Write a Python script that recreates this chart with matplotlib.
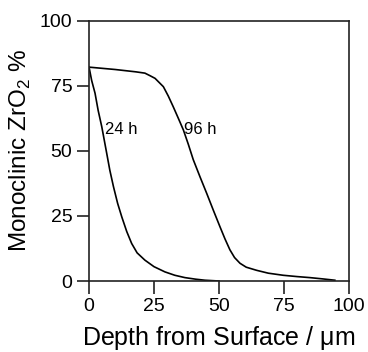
import matplotlib
matplotlib.use("Agg")
import matplotlib.pyplot as plt

plt.rcParams['font.family'] = ['Liberation Sans', 'DejaVu Sans']

# depth (um) vs monoclinic fraction (%)
depth_24h = [0, 1, 2.3, 3.5, 4.9, 6.8, 8, 9.4, 11, 12.6, 14.5, 16.4, 18.5, 21.5, 25, 29.2,
             33, 36.9, 41, 44.6, 50]
mono_24h = [82.1, 77, 72.1, 65.5, 59.2, 49, 42.5, 36.2, 29.8, 24.6, 19, 14.4, 10.8, 8, 5.5, 3.5,
            2.2, 1.3, 0.7, 0.3, 0]

depth_96h = [0, 10, 18, 21.5, 23.5, 25.4, 27, 28.6, 30.5, 32.4, 34.3, 36.3, 38.2, 40.1, 42.7,
             45.3, 47.9, 50.4, 52.3, 54.2, 56, 58.1, 60.5, 64.5, 69, 74.7, 80, 85, 90, 94.6]
mono_96h = [82.1, 81.2, 80.3, 79.8, 78.8, 77.8, 76.2, 74.6, 71, 66.9, 62.6, 58, 52.5, 46.6, 40.0,
            33.6, 27, 20.8, 16.2, 12.0, 9.0, 6.8, 5.3, 4.1, 3.0, 2.2, 1.7, 1.3, 0.8, 0.3]

xticks = [0, 25, 50, 75, 100]
yticks = [0, 25, 50, 75, 100]

fig = plt.figure(figsize=(3.68, 3.52), dpi=100)
ax = fig.add_axes([0.242, 0.2017, 0.706, 0.740])

ax.plot(depth_24h, mono_24h, color='black', lw=1.2)
ax.plot(depth_96h, mono_96h, color='black', lw=1.2)

ax.text(6.0, 58.2, "24 h", fontsize=12, ha='left', va='center')
ax.text(36.7, 58.2, "96 h", fontsize=12, ha='left', va='center')

ax.set_xlim(0, 100)
ax.set_ylim(0, 100)
ax.set_xticks(xticks)
ax.set_yticks(yticks)
ax.tick_params(direction='out', length=9, width=1.2, labelsize=14, pad=3,
               colors='#222222', labelcolor='black')
for s in ax.spines.values():
    s.set_linewidth(1.2)
    s.set_color('#222222')

ax.set_xlabel(r"Depth from Surface / $\mathregular{\mu}$m", fontsize=18, labelpad=7)
ax.set_ylabel(r"Monoclinic ZrO$_\mathregular{2}$ %", fontsize=17.5, labelpad=5)

fig.savefig("out.png", dpi=100)
